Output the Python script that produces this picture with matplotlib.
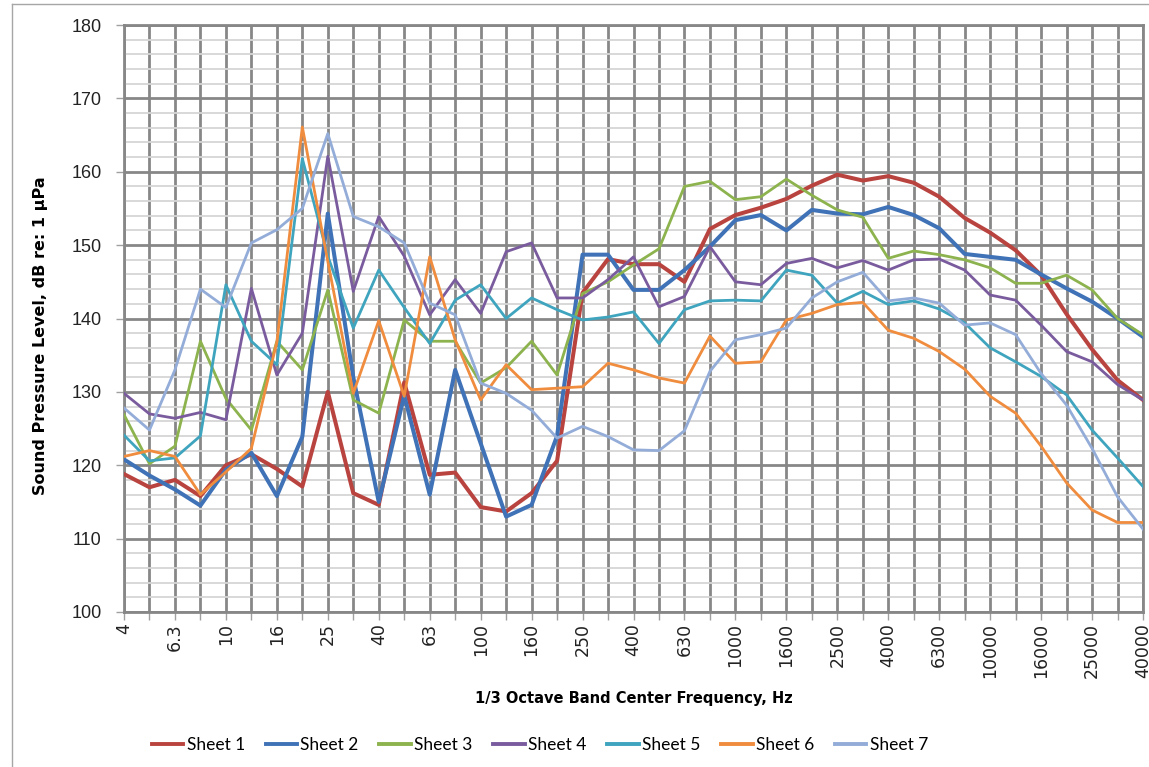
import numpy as np
import matplotlib
matplotlib.use("Agg")
import matplotlib.pyplot as plt
from matplotlib.lines import Line2D

# 1/3 octave band centre frequencies (categories)
bands = ["4", "5", "6.3", "8", "10", "12.5", "16", "20", "25", "31.5",
         "40", "50", "63", "80", "100", "125", "160", "200", "250", "315",
         "400", "500", "630", "800", "1000", "1250", "1600", "2000", "2500", "3150",
         "4000", "5000", "6300", "8000", "10000", "12500", "16000", "20000", "25000", "31500",
         "40000"]

# sound pressure levels, dB re 1 uPa
sheet1 = [118.8, 117.0, 118.0, 115.8, 120.0, 121.5, 119.5, 117.1, 130.0, 116.2,
          114.6, 131.3, 118.7, 119.0, 114.3, 113.7, 116.2, 120.6, 143.5, 148.1,
          147.4, 147.4, 145.0, 152.2, 154.1, 155.1, 156.3, 158.1, 159.6, 158.8,
          159.4, 158.5, 156.6, 153.7, 151.7, 149.3, 145.9, 140.6, 135.8, 131.6,
          128.9]
sheet2 = [120.8, 118.6, 116.7, 114.5, 119.4, 121.7, 115.8, 123.9, 154.3, 132.0,
          115.0, 129.5, 116.0, 133.0, 123.0, 113.0, 114.6, 124.0, 148.7, 148.7,
          143.9, 143.9, 146.6, 149.8, 153.4, 154.1, 152.0, 154.8, 154.3, 154.2,
          155.2, 154.1, 152.3, 148.8, 148.4, 148.0, 146.0, 144.1, 142.3, 140.0,
          137.5]
sheet3 = [126.9, 120.2, 122.6, 136.9, 129.1, 124.8, 136.9, 133.0, 143.9, 128.9,
          127.1, 139.8, 136.9, 136.9, 131.2, 133.3, 136.9, 132.3, 143.4, 145.0,
          147.3, 149.5, 158.0, 158.7, 156.2, 156.6, 159.0, 156.8, 154.8, 153.8,
          148.2, 149.2, 148.7, 148.0, 146.9, 144.8, 144.8, 145.9, 143.9, 140.0,
          137.8]
sheet4 = [129.8, 127.0, 126.4, 127.2, 126.2, 144.1, 132.3, 138.0, 162.1, 143.7,
          153.9, 148.5, 140.5, 145.3, 140.7, 149.1, 150.3, 142.8, 142.8, 145.3,
          148.4, 141.6, 143.0, 149.8, 145.0, 144.6, 147.5, 148.2, 146.9, 147.9,
          146.6, 148.0, 148.1, 146.6, 143.2, 142.5, 139.1, 135.5, 134.1, 131.0,
          128.9]
sheet5 = [124.1, 120.6, 121.0, 124.0, 144.6, 136.9, 133.7, 161.8, 148.5, 138.7,
          146.6, 141.5, 136.6, 142.5, 144.6, 140.0, 142.8, 141.2, 139.8, 140.2,
          140.9, 136.6, 141.2, 142.4, 142.5, 142.4, 146.6, 145.9, 142.1, 143.7,
          141.9, 142.4, 141.3, 139.4, 136.0, 134.1, 132.1, 129.6, 124.8, 121.0,
          117.1]
sheet6 = [121.2, 122.0, 121.2, 116.0, 119.1, 122.3, 136.8, 166.1, 147.8, 129.8,
          139.7, 129.4, 148.4, 137.1, 128.9, 133.7, 130.3, 130.5, 130.7, 133.9,
          133.0, 131.9, 131.2, 137.6, 133.9, 134.1, 139.8, 140.7, 141.9, 142.2,
          138.4, 137.3, 135.5, 133.1, 129.4, 127.1, 122.6, 117.6, 113.9, 112.2,
          112.2]
sheet7 = [127.8, 124.8, 133.0, 144.0, 141.5, 150.3, 152.1, 155.0, 165.2, 153.9,
          152.5, 150.3, 142.1, 140.5, 131.2, 129.8, 127.5, 123.7, 125.3, 123.9,
          122.1, 122.0, 124.7, 132.8, 137.1, 137.8, 138.7, 142.8, 145.0, 146.3,
          142.4, 142.8, 142.1, 139.1, 139.4, 137.8, 132.5, 128.2, 122.3, 115.7,
          111.3]

names = ["Sheet 1", "Sheet 2", "Sheet 3", "Sheet 4", "Sheet 5", "Sheet 6", "Sheet 7"]
series = [sheet1, sheet2, sheet3, sheet4, sheet5, sheet6, sheet7]
colors = ["#B9433F", "#3F72B6", "#8DB34E", "#7A5C9E", "#3FA4BE", "#F08C3E", "#93ACD8"]
widths = [2.9, 2.9, 2.0, 2.0, 2.0, 2.0, 2.0]

fig = plt.figure(figsize=(11.49, 7.67), dpi=100)
ax = fig.add_axes([124 / 1149, 155 / 767, (1143 - 124) / 1149, 587 / 767])

x = np.arange(len(bands))
for name, vals, c, lw in zip(names, series, colors, widths):
    ax.plot(x, vals, color=c, lw=lw, label=name, zorder=3)

ax.set_xlim(0, len(bands) - 1)
ax.set_ylim(100, 180)

# every category gets a gridline, every other one a label
ax.set_xticks(x)
ax.set_xticklabels([b if i % 2 == 0 else "" for i, b in enumerate(bands)],
                   rotation=90, fontsize=12.5, family="DejaVu Sans")
ax.set_yticks(np.arange(100, 181, 10))
ax.set_yticks(np.arange(100, 181, 2), minor=True)
ax.tick_params(axis="y", which="major", labelsize=13, length=6, width=1,
               color="#A0A0A0", pad=10, labelcolor="#222222")
ax.tick_params(axis="y", which="minor", length=0)
ax.tick_params(axis="x", length=6, width=1, color="#A0A0A0", pad=2,
               labelcolor="#222222")
for lab in ax.get_yticklabels():
    lab.set_family("Liberation Sans")

ax.set_axisbelow(True)
ax.grid(which="minor", axis="y", color="#D6D6D6", lw=1.3)
ax.grid(which="major", axis="both", color="#878787", lw=2.0)
for sp in ax.spines.values():
    sp.set_color("#878787")
    sp.set_linewidth(2.0)

ax.set_ylabel("Sound Pressure Level, dB re: 1 µPa", fontsize=11.5,
              fontweight="bold", family="DejaVu Sans")
ax.yaxis.set_label_coords(-0.075, 0.47)
ax.set_xlabel("1/3 Octave Band Center Frequency, Hz", fontsize=10.5,
              fontweight="bold", family="DejaVu Sans", labelpad=9)

leg = ax.legend(loc="center", bbox_to_anchor=(540 / 1149, 22 / 767),
                bbox_transform=fig.transFigure, ncol=7, frameon=False,
                handlelength=1.8, handletextpad=0.2, columnspacing=1.2,
                prop={"family": "Lato", "size": 12.5})
for h in leg.get_lines():
    h.set_linewidth(2.8)

# outer chart-area border (top and left edges visible in the crop)
fig.add_artist(Line2D([12 / 1149, 1.0], [1 - 4 / 767, 1 - 4 / 767],
                      transform=fig.transFigure, color="#A6A6A6", lw=1))
fig.add_artist(Line2D([12 / 1149, 12 / 1149], [0.0, 1 - 4 / 767],
                      transform=fig.transFigure, color="#A6A6A6", lw=1))

fig.savefig("out.png", dpi=100)
